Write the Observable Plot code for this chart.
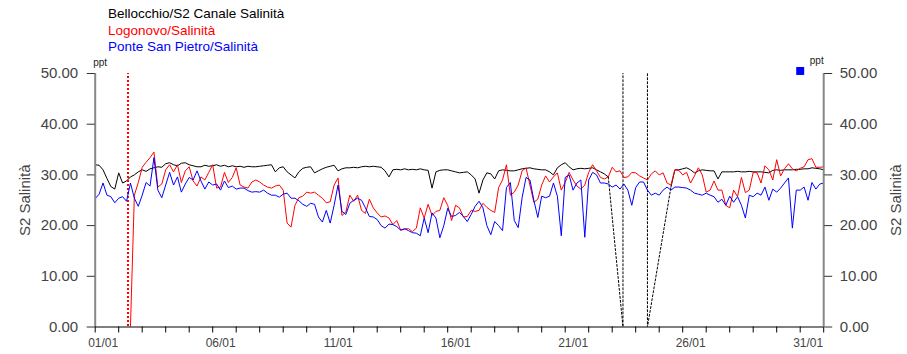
<!DOCTYPE html>
<html><head><meta charset="utf-8">
<script src="https://cdn.jsdelivr.net/npm/d3@7"></script>
<script src="https://cdn.jsdelivr.net/npm/@observablehq/plot@0.6"></script>
<style>
html,body{margin:0;padding:0;background:#fff;}
#wrap{position:relative;width:907px;height:354px;font-family:"Liberation Sans",Arial,sans-serif;}
#legend{position:absolute;left:108px;top:6px;font-size:13.5px;line-height:16.7px;white-space:nowrap;}
#chart{position:absolute;left:0;top:0;}
</style></head><body>
<div id="wrap"><div id="chart"></div><div id="legend"></div></div>
<script>
const seriesNames = ["Bellocchio/S2 Canale Salinità", "Logonovo/Salinità", "Ponte San Pietro/Salinità"];
const seriesColors = ["#000000", "#ff0000", "#0000ff"];
const startDate = "2024-01-01T00:00:00Z";
const endDate = "2024-02-01T00:00:00Z";
const stepHours = 4;
const yLabel = "S2 Salinità";
const unitLabel = "ppt";
const yTicks = [0, 10, 20, 30, 40, 50];
const labelDays = [1, 6, 11, 16, 21, 26, 31];

const bellocchio = [
32.0,31.9,31.0,29.3,27.7,27.2,30.4,28.4,28.8,29.6,
30.0,30.6,31.0,30.7,31.2,31.4,31.6,31.5,32.2,32.4,
32.0,31.8,32.3,32.4,32.0,31.8,31.6,31.6,31.9,31.7,
31.8,32.0,31.7,31.9,31.6,31.8,31.6,31.7,31.5,31.7,
31.6,31.6,31.7,31.8,31.9,32.0,30.6,31.4,31.6,30.6,
30.0,29.4,30.6,31.3,31.5,31.6,30.4,30.8,31.2,31.5,
31.7,31.9,30.8,31.2,31.4,31.4,31.5,31.4,31.6,31.7,
31.6,31.7,31.6,31.5,30.8,29.6,31.0,31.1,31.0,31.2,
31.0,31.1,31.0,31.2,31.0,30.9,27.4,30.6,30.9,31.0,
31.0,30.8,30.6,30.4,30.5,30.6,30.0,29.2,26.4,29.0,
30.4,30.2,29.2,30.8,31.0,30.9,30.8,30.8,31.0,31.2,
31.3,31.4,31.2,31.1,31.0,31.0,30.6,30.0,31.4,32.0,
32.4,31.6,31.0,31.2,31.3,31.2,31.3,31.4,31.0,30.6,
30.2,29.6,null,null,null,null,null,null,null,null,
null,null,null,null,null,null,null,27.6,31.0,31.0,
31.2,31.4,31.0,30.4,30.8,31.0,30.9,30.8,30.8,29.2,
30.6,30.6,30.6,30.6,30.7,30.6,30.6,30.7,30.6,30.6,
30.6,30.5,30.4,30.9,31.0,30.9,31.0,31.0,31.0,31.1,
31.1,31.2,31.2,31.4,31.3,31.2,31.0];

const logonovo = [
null,null,null,null,null,null,null,null,null,0,
26.0,28.5,31.5,32.5,33.4,34.5,27.6,28.2,31.0,32.0,
30.6,32.0,28.5,30.8,31.6,28.8,27.8,29.6,29.0,30.5,
32.0,27.4,27.6,30.5,28.5,29.5,31.4,28.0,27.6,27.4,
28.6,29.0,28.6,28.0,27.6,27.4,27.8,28.0,27.0,20.5,
19.7,24.0,25.5,25.8,26.6,26.4,26.6,26.0,25.4,24.5,
24.7,28.0,29.4,22.0,22.7,26.0,24.8,26.0,23.0,22.4,
25.2,23.5,22.5,21.7,21.9,21.5,20.2,21.0,19.1,19.3,
19.4,18.8,19.5,23.5,21.5,24.2,22.0,22.8,23.0,25.5,
24.0,21.0,24.0,23.5,21.7,21.8,23.0,22.8,23.0,24.4,
23.6,23.0,22.6,27.5,29.0,32.0,26.0,26.6,28.0,30.8,
31.4,28.0,24.6,25.2,28.0,29.8,28.6,29.6,30.4,27.0,
28.5,30.5,29.0,27.8,27.2,28.0,30.5,32.0,30.8,29.5,
29.2,29.6,31.5,30.6,30.8,29.5,29.6,30.5,30.4,29.8,
29.4,29.0,30.2,30.8,30.0,30.4,28.4,28.0,31.0,30.9,
30.0,30.5,28.4,29.8,31.4,30.0,26.6,27.0,28.8,27.0,
27.0,24.0,23.5,27.0,25.7,29.5,26.5,27.0,30.5,30.4,
28.4,31.8,31.0,29.0,33.0,29.8,31.2,32.2,31.2,30.8,
31.3,31.6,33.0,33.2,31.5,31.5,31.6];

const ponteSanPietro = [
25.3,26.2,28.4,26.0,25.7,24.5,25.4,25.7,24.8,28.4,
25.4,23.8,26.0,28.5,27.8,33.4,27.0,25.5,28.0,30.5,
28.0,29.6,26.6,28.2,29.5,29.0,30.8,28.8,27.2,28.6,
28.0,28.2,27.0,28.8,27.5,27.8,27.2,27.4,27.4,26.9,
26.6,26.7,26.6,27.0,26.4,26.0,26.0,25.6,26.2,26.4,
25.4,25.4,24.9,24.2,23.8,24.4,24.2,21.7,20.7,23.0,
20.5,24.0,28.0,22.8,22.2,24.4,25.0,25.4,25.0,23.5,
21.8,21.7,21.2,20.0,19.5,20.3,20.2,19.8,19.1,19.4,
19.0,18.6,18.5,18.0,21.5,18.6,22.5,21.5,17.6,20.0,
23.4,21.8,22.0,22.6,21.8,20.8,22.2,23.8,24.8,23.5,
20.0,18.2,20.8,20.0,19.0,27.5,28.5,21.0,19.6,25.5,
29.5,29.0,25.0,21.6,25.8,25.5,25.8,28.4,25.8,18.0,
29.5,30.0,27.0,28.4,29.0,17.7,29.0,30.5,30.0,28.4,
28.4,28.2,27.6,28.0,27.2,28.2,27.0,24.0,27.5,28.6,
28.6,27.0,26.0,26.4,26.0,27.0,27.6,27.0,27.6,27.6,
27.5,27.4,27.0,26.4,26.2,26.0,26.4,26.0,25.7,24.6,
25.2,24.0,25.8,24.6,25.7,24.0,21.5,26.0,25.7,26.4,
26.0,27.6,25.0,27.2,26.6,27.4,28.4,29.4,19.5,27.0,
27.0,27.6,25.0,28.5,27.2,28.2,28.4];

// dotted connectors across missing data (hours from start, values)
const blackGapHours = [524, 539, 539, 564, 564, 588];
const blackGapValues = [29.6, 0, 100, 100, 0, 27.6];
const redGapHours = [33.5, 33.5];
const redGapValues = [100, 0];
// marker drawn near the right unit label
const flagHours = [720];
const flagValues = [50.5];

const t0 = new Date(startDate).getTime();
const H = 3600e3;
const toRows = arr => arr.map((v, i) => ({date: new Date(t0 + i * stepHours * H), value: v}));
const toRowsH = (hs, vs) => hs.map((h, i) => ({date: new Date(t0 + h * H), value: vs[i]}));

const rowsBlack = toRows(bellocchio);
const rowsRed = toRows(logonovo);
const rowsBlue = toRows(ponteSanPietro);
const gapBlack = toRowsH(blackGapHours, blackGapValues);
const gapRed = toRowsH(redGapHours, redGapValues);
const flag = toRowsH(flagHours, flagValues);

const xDomain = [new Date(startDate), new Date(endDate)];
const dayTicks = d3.utcDay.range(xDomain[0], d3.utcDay.offset(xDomain[1], 1));
const labelTicks = dayTicks.filter(d => labelDays.includes(d.getUTCDate()) && d.getUTCMonth() === 0);
const fmt = d3.utcFormat("%d/%m");

const font = "Liberation Sans, Arial, sans-serif";

const chart = Plot.plot({
  width: 907,
  height: 354,
  marginLeft: 94.7,
  marginRight: 83.8,
  marginTop: 73,
  marginBottom: 27.5,
  style: {fontFamily: font, fontSize: "15px", color: "#444", background: "white", overflow: "visible"},
  x: {type: "utc", domain: xDomain},
  y: {domain: [0, 50]},
  marks: [
    Plot.lineY(rowsBlack, {x: "date", y: "value", stroke: seriesColors[0], strokeWidth: 1, clip: true}),
    Plot.lineY(gapBlack, {x: "date", y: "value", stroke: seriesColors[0], strokeWidth: 1, strokeDasharray: "2,2", clip: true}),
    Plot.lineY(rowsRed, {x: "date", y: "value", stroke: seriesColors[1], strokeWidth: 1, clip: true}),
    Plot.lineY(gapRed, {x: "date", y: "value", stroke: seriesColors[1], strokeWidth: 1.2, strokeDasharray: "2,2", clip: true, shapeRendering: "crispEdges"}),
    Plot.lineY(rowsBlue, {x: "date", y: "value", stroke: seriesColors[2], strokeWidth: 1, clip: true}),
    Plot.ruleX([xDomain[0]], {stroke: "#888", strokeWidth: 2}),
    Plot.ruleX([xDomain[1]], {stroke: "#888", strokeWidth: 2}),
    Plot.ruleY([0], {stroke: "#000", strokeWidth: 1}),
    Plot.axisY({anchor: "left", ticks: yTicks, tickSize: 8, tickPadding: 9, tickFormat: d => d.toFixed(2), label: null, stroke: "#333", fill: "#444", fontSize: 15}),
    Plot.axisY({anchor: "right", ticks: yTicks, tickSize: 8, tickPadding: 8, tickFormat: d => d.toFixed(2), label: null, stroke: "#333", fill: "#444", fontSize: 15}),
    Plot.axisX({ticks: dayTicks, tickSize: 6, fill: "none", stroke: "#000", label: null}),
    Plot.axisX({ticks: labelTicks, tickSize: 0, tickPadding: 11, tickFormat: fmt, stroke: "none", fill: "#444", dx: 8, fontSize: 12, label: null}),
    Plot.text([yLabel], {frameAnchor: "left", dx: -70, rotate: -90, textAnchor: "middle", lineAnchor: "middle", fill: "#444", fontSize: 15}),
    Plot.text([yLabel], {frameAnchor: "right", dx: 72, rotate: -90, textAnchor: "middle", lineAnchor: "middle", fill: "#444", fontSize: 15}),
    Plot.text([unitLabel], {frameAnchor: "top-left", dx: -2, dy: -11.2, textAnchor: "start", lineAnchor: "middle", fill: "#222", fontSize: 10}),
    Plot.text([unitLabel], {frameAnchor: "top-right", dy: -13.2, textAnchor: "end", lineAnchor: "middle", fill: "#222", fontSize: 10}),
    Plot.dot(flag, {x: "date", y: "value", symbol: "square", r: 4.5, fill: seriesColors[2], stroke: "none"})
  ]
});
document.getElementById("chart").appendChild(chart);

const legend = document.getElementById("legend");
seriesNames.forEach((n, i) => {
  const d = document.createElement("div");
  d.textContent = n;
  d.style.color = seriesColors[i];
  legend.appendChild(d);
});
</script>
</body></html>
